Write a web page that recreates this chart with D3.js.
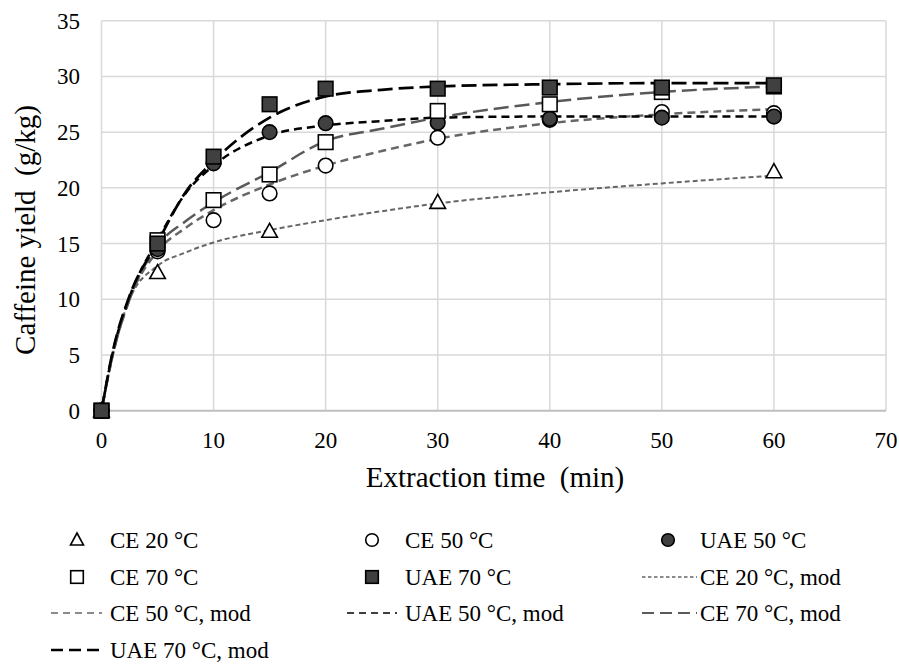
<!DOCTYPE html>
<html><head><meta charset="utf-8">
<script src="https://cdn.jsdelivr.net/npm/d3@7"></script>
<style>
body{margin:0;background:#fff}
svg{display:block}
text{font-family:"Liberation Serif","Times New Roman",serif;fill:#000}
</style></head>
<body><script>
// ---- data ----
const xTicks=[0,10,20,30,40,50,60,70];
const yTicks=[0,5,10,15,20,25,30,35];
const expTimes=[0,5,10,15,20,30,40,50,60];
const ce20Times=[0,5,15,30,60];
const ce20=[0,12.4,16.1,18.7,21.45];
const ce50=[0,14.3,17.1,19.5,22.0,24.5,26.1,26.8,26.7];
const uae50=[0,14.5,22.2,25.0,25.8,25.85,26.2,26.3,26.4];
const ce70=[0,15.3,18.9,21.2,24.1,26.9,27.5,28.6,29.1];
const uae70=[0,15.0,22.8,27.5,28.9,28.9,29.0,29.0,29.2];
const modTimes=[0,1,2.5,5,7.5,10,15,20,25,30,40,50,60];
const ce20Mod=[0,5,10,13.0,14.2,15.1,16.2,17.1,17.9,18.6,19.6,20.4,21.1];
const ce50Mod=[0,5,10,14.3,16.4,18.0,20.3,22.0,23.3,24.4,25.8,26.6,27.05];
const uae50Mod=[0,5.2,10.2,15.3,19.5,22.0,24.7,25.6,26.0,26.3,26.4,26.4,26.4];
const ce70Mod=[0,5,10,14.8,17.0,18.7,21.4,24.2,25.3,26.3,27.7,28.6,29.1];
const uae70Mod=[0,5.3,10.3,15.1,19.6,22.4,26.3,28.2,28.8,29.1,29.3,29.4,29.4];
const legendLabels=["CE 20 °C","CE 50 °C","UAE 50 °C","CE 70 °C","UAE 70 °C","CE 20 °C, mod","CE 50 °C, mod","UAE 50 °C, mod","CE 70 °C, mod","UAE 70 °C, mod"];

// ---- styles ----
const W=899,H=664;
const svg=d3.select("body").append("svg").attr("width",W).attr("height",H);
const x=d3.scaleLinear().domain([0,70]).range([101.5,886]);
const y=d3.scaleLinear().domain([0,35]).range([410.7,20.7]);

const markerSeries=[
 {t:ce20Times,v:ce20,shape:"tri",fill:"#fff"},
 {t:expTimes,v:ce50,shape:"circle",fill:"#fff"},
 {t:expTimes,v:uae50,shape:"circle",fill:"#404040"},
 {t:expTimes,v:ce70,shape:"square",fill:"#fff"},
 {t:expTimes,v:uae70,shape:"square",fill:"#404040"}
];
const lineSeries=[
 {v:ce20Mod,color:"#666",w:2,dash:"5,3",lw:1.3,ldash:"3.5,2.5"},
 {v:ce50Mod,color:"#666",w:2.5,dash:"8,5",lw:1.6,ldash:"7,5"},
 {v:uae50Mod,color:"#000",w:2.5,dash:"8,5",lw:1.6,ldash:"7,5"},
 {v:ce70Mod,color:"#595959",w:2.5,dash:"15,6",lw:2,ldash:"12,6"},
 {v:uae70Mod,color:"#000",w:2.7,dash:"15,6",lw:2.6,ldash:"12,6"}
];

// grid
const g=svg.append("g");
g.selectAll(".hg").data(yTicks.filter(d=>d>0)).join("line")
 .attr("x1",x(0)).attr("x2",x(70)).attr("y1",d=>y(d)).attr("y2",d=>y(d))
 .attr("stroke","#d9d9d9").attr("stroke-width",1.5);
g.selectAll(".vg").data(xTicks).join("line")
 .attr("x1",d=>x(d)).attr("x2",d=>x(d)).attr("y1",y(0)).attr("y2",y(35))
 .attr("stroke","#d9d9d9").attr("stroke-width",1.5);
g.append("line").attr("x1",x(0)).attr("x2",x(70)).attr("y1",y(0)).attr("y2",y(0))
 .attr("stroke","#bfbfbf").attr("stroke-width",2);

// tick labels
svg.selectAll(".yt").data(yTicks).join("text")
 .attr("x",80).attr("y",d=>y(d)).attr("dy","0.35em").attr("text-anchor","end")
 .attr("font-size",23).text(d=>d);
svg.selectAll(".xt").data(xTicks).join("text")
 .attr("x",d=>x(d)).attr("y",448).attr("text-anchor","middle")
 .attr("font-size",23).text(d=>d);

// titles
svg.append("text").attr("x",495).attr("y",487).attr("text-anchor","middle")
 .attr("font-size",29).attr("xml:space","preserve").style("white-space","pre").text("Extraction time  (min)");
svg.append("text").attr("transform","translate(35,230) rotate(-90)").attr("text-anchor","middle")
 .attr("font-size",29).style("white-space","pre").text("Caffeine yield  (g/kg)");

// model lines
const lineGen=d3.line().x((d,i)=>x(modTimes[i])).y(d=>y(d)).curve(d3.curveMonotoneX);
svg.selectAll(".ml").data(lineSeries).join("path")
 .attr("d",d=>lineGen(d.v)).attr("fill","none")
 .attr("stroke",d=>d.color).attr("stroke-width",d=>d.w).attr("stroke-dasharray",d=>d.dash);

// markers
function drawMarker(sel,shape,fill,cx,cy){
  if(shape==="circle"){
    sel.append("circle").attr("cx",cx).attr("cy",cy).attr("r",7.3)
      .attr("fill",fill).attr("stroke","#000").attr("stroke-width",1.6);
  } else if(shape==="square"){
    sel.append("rect").attr("x",cx-7.3).attr("y",cy-7.3).attr("width",14.6).attr("height",14.6)
      .attr("fill",fill).attr("stroke","#000").attr("stroke-width",1.6);
  } else {
    sel.append("path").attr("transform",`translate(${cx},${cy})`)
      .attr("d","M0,-8L7.8,6L-7.8,6Z")
      .attr("fill",fill).attr("stroke","#000").attr("stroke-width",1.6);
  }
}
const mg=svg.append("g");
markerSeries.forEach(s=>{
  s.v.forEach((v,i)=>drawMarker(mg,s.shape,s.fill,x(s.t[i]),y(v)));
});

// legend
const rowsY=[540,577,613,650];
const colMarkX=[77,372,668];
const colTextX=[110,405,700];
const colLine=[[51,102],[347,397],[642,697]];
const lg=svg.append("g");
legendLabels.forEach((lab,i)=>{
  const r=Math.floor(i/3), c=i%3;
  const cy=rowsY[r];
  if(i<5){
    const s=markerSeries[i];
    const sub=lg.append("g");
    if(s.shape==="tri"){
      sub.append("path").attr("transform",`translate(${colMarkX[c]},${cy})`)
       .attr("d","M0,-7L6.5,5L-6.5,5Z").attr("fill","#fff").attr("stroke","#000").attr("stroke-width",1.6);
    } else if(s.shape==="circle"){
      sub.append("circle").attr("cx",colMarkX[c]).attr("cy",cy).attr("r",6.3)
       .attr("fill",s.fill).attr("stroke","#000").attr("stroke-width",1.6);
    } else {
      sub.append("rect").attr("x",colMarkX[c]-6.3).attr("y",cy-6.3).attr("width",12.6).attr("height",12.6)
       .attr("fill",s.fill).attr("stroke","#000").attr("stroke-width",1.6);
    }
  } else {
    const s=lineSeries[i-5];
    lg.append("line").attr("x1",colLine[c][0]).attr("x2",colLine[c][1]).attr("y1",cy).attr("y2",cy)
     .attr("stroke",s.color).attr("stroke-width",s.lw).attr("stroke-dasharray",s.ldash);
  }
  lg.append("text").attr("x",colTextX[c]).attr("y",cy).attr("dy","0.35em")
   .attr("font-size",23).text(lab);
});
</script></body></html>
